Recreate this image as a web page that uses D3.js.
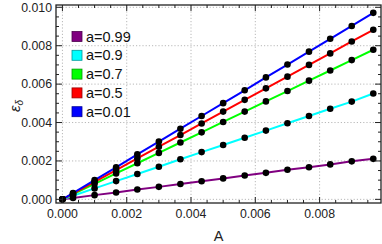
<!DOCTYPE html>
<html><head><meta charset="utf-8">
<script src="https://cdn.jsdelivr.net/npm/d3@7"></script>
<style>body{margin:0;background:#fff}svg{display:block}</style>
</head><body>
<svg id="c" width="382" height="244"></svg>
<script>
const xValues = [0, 0.00033, 0.001, 0.00167, 0.00233, 0.003, 0.00367, 0.00433, 0.005, 0.00567, 0.00633, 0.007, 0.00767, 0.00833, 0.009, 0.00967];
const seriesNames = ["a=0.99", "a=0.9", "a=0.7", "a=0.5", "a=0.01"];
const seriesColors = ["#800080", "#00ffff", "#00ff00", "#ff0000", "#0000ff"];
const legendBorders = ["#4d004d", "#009999", "#009900", "#990000", "#000099"];
const yA099 = [0, 0.00007, 0.00022, 0.00036, 0.00051, 0.00065, 0.0008, 0.00094, 0.00109, 0.00124, 0.00138, 0.00154, 0.00167, 0.00182, 0.00198, 0.00211];
const yA09  = [0, 0.00019, 0.00057, 0.00095, 0.00132, 0.0017, 0.00209, 0.00246, 0.00283, 0.00321, 0.00358, 0.00396, 0.00434, 0.00472, 0.00509, 0.00551];
const yA07  = [0, 0.00027, 0.00081, 0.00135, 0.00188, 0.00242, 0.00296, 0.00349, 0.00403, 0.00457, 0.0051, 0.00564, 0.00618, 0.00671, 0.00725, 0.00779];
const yA05  = [0, 0.0003, 0.00091, 0.00152, 0.00213, 0.00274, 0.00335, 0.00395, 0.00457, 0.00518, 0.00578, 0.00639, 0.007, 0.0076, 0.00822, 0.00883];
const yA001 = [0, 0.00033, 0.001, 0.00167, 0.00234, 0.00301, 0.00368, 0.00434, 0.00501, 0.00568, 0.00635, 0.00702, 0.00769, 0.00836, 0.00903, 0.00971];
const seriesValues = [yA099, yA09, yA07, yA05, yA001];
const xTicks = [0, 0.002, 0.004, 0.006, 0.008];
const yTicks = [0, 0.002, 0.004, 0.006, 0.008, 0.010];
const xMinor = d3.range(0, 0.00991, 0.0005);
const yMinor = d3.range(0, 0.0101, 0.0005);

const svg = d3.select("#c");
const L = 56, R = 381, T = 5, B = 203;
const x = d3.scaleLinear().domain([-0.0002, 0.00991]).range([L, R]);
const y = d3.scaleLinear().domain([-0.00019, 0.01012]).range([B, T]);
const font = "'Liberation Sans', Arial, sans-serif";

// grid
const g = svg.append("g");
g.selectAll(".gx").data(xTicks).enter().append("line")
  .attr("x1", d => x(d)).attr("x2", d => x(d)).attr("y1", T).attr("y2", B)
  .attr("stroke", "#b8b8b8").attr("stroke-width", 1).attr("stroke-dasharray", "1.2,2");
g.selectAll(".gy").data(yTicks).enter().append("line")
  .attr("y1", d => y(d)).attr("y2", d => y(d)).attr("x1", L).attr("x2", R)
  .attr("stroke", "#b8b8b8").attr("stroke-width", 1).attr("stroke-dasharray", "1.2,2");

// lines
const line = d3.line().x((d, i) => x(xValues[i])).y(d => y(d));
seriesValues.forEach((vals, k) => {
  svg.append("path").datum(vals).attr("d", line)
    .attr("fill", "none").attr("stroke", seriesColors[k]).attr("stroke-width", 2);
});
seriesValues.forEach((vals, k) => {
  svg.append("g").selectAll("circle").data(vals).enter().append("circle")
    .attr("cx", (d, i) => x(xValues[i])).attr("cy", d => y(d)).attr("r", 3.3).attr("fill", "#000");
});

// frame ticks
const fr = svg.append("g").attr("stroke", "#222").attr("stroke-width", 1);
xTicks.forEach(v => {
  fr.append("line").attr("x1", x(v)).attr("x2", x(v)).attr("y1", B).attr("y2", B - 6);
  fr.append("line").attr("x1", x(v)).attr("x2", x(v)).attr("y1", T).attr("y2", T + 6);
});
xMinor.filter(v => !xTicks.some(t => Math.abs(t - v) < 1e-9)).forEach(v => {
  fr.append("line").attr("x1", x(v)).attr("x2", x(v)).attr("y1", B).attr("y2", B - 3);
  fr.append("line").attr("x1", x(v)).attr("x2", x(v)).attr("y1", T).attr("y2", T + 3);
});
yTicks.forEach(v => {
  fr.append("line").attr("y1", y(v)).attr("y2", y(v)).attr("x1", L).attr("x2", L + 6);
  fr.append("line").attr("y1", y(v)).attr("y2", y(v)).attr("x1", R).attr("x2", R - 6);
});
yMinor.filter(v => !yTicks.some(t => Math.abs(t - v) < 1e-9)).forEach(v => {
  fr.append("line").attr("y1", y(v)).attr("y2", y(v)).attr("x1", L).attr("x2", L + 3);
  fr.append("line").attr("y1", y(v)).attr("y2", y(v)).attr("x1", R).attr("x2", R - 3);
});
svg.append("rect").attr("x", L).attr("y", T).attr("width", R - L).attr("height", B - T)
  .attr("fill", "none").attr("stroke", "#222").attr("stroke-width", 1.3);

// tick labels
svg.selectAll(".xl").data(xTicks).enter().append("text")
  .attr("x", d => x(d)).attr("y", B + 15).attr("text-anchor", "middle")
  .attr("font-family", font).attr("font-size", 12.3).attr("fill", "#222")
  .text(d => d3.format(".3f")(d));
svg.selectAll(".yl").data(yTicks).enter().append("text")
  .attr("x", L - 4).attr("y", d => y(d) + 4.3).attr("text-anchor", "end")
  .attr("font-family", font).attr("font-size", 12.3).attr("fill", "#222")
  .text(d => d3.format(".3f")(d));

// axis labels
svg.append("text").attr("x", (L + R) / 2).attr("y", 241).attr("text-anchor", "middle")
  .attr("font-family", font).attr("font-size", 14.5).attr("fill", "#222").text("A");
const yl = svg.append("text").attr("transform", `translate(20,${(T + B) / 2 + 2}) rotate(-90)`)
  .attr("text-anchor", "middle").attr("font-family", font).attr("font-size", 15).attr("fill", "#222");
yl.append("tspan").attr("font-style", "italic").text("ε");
yl.append("tspan").attr("font-style", "italic").attr("font-size", 10).attr("dy", 3).text("δ");

// legend
const lg = svg.append("g");
seriesNames.forEach((name, k) => {
  const cy = 36.5 + k * 18.8;
  lg.append("rect").attr("x", 72).attr("y", cy - 5).attr("width", 10).attr("height", 10)
    .attr("fill", seriesColors[k]).attr("stroke", legendBorders[k]).attr("stroke-width", 0.8);
  lg.append("text").attr("x", 86).attr("y", cy + 5).attr("font-family", font)
    .attr("font-size", 14.5).attr("fill", "#111").text(name);
});
</script>
</body></html>
